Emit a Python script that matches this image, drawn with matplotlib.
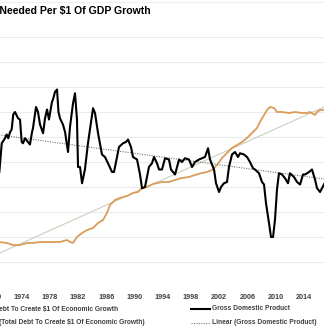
import matplotlib
matplotlib.use("Agg")
import matplotlib.pyplot as plt
import numpy as np
from matplotlib.lines import Line2D

# Gross Domestic Product (annual % change, smoothed)
gdp_years = [1970.83, 1971.17, 1971.63, 1971.87, 1972.10, 1972.35, 1972.58, 1972.80, 1973.05,
             1973.48, 1973.76, 1974.00, 1974.19, 1974.47, 1974.89, 1975.17, 1975.47, 1975.60,
             1976.03, 1976.31, 1976.60, 1977.03, 1977.31, 1977.59, 1977.87, 1978.29, 1978.44,
             1978.72, 1979.01, 1979.22, 1979.43, 1979.85, 1980.15, 1980.57, 1980.85, 1981.28,
             1981.56, 1981.84, 1981.99, 1982.27, 1982.56, 1982.97, 1983.40, 1984.12, 1984.40,
             1984.83, 1985.39, 1985.81, 1986.24, 1986.81, 1987.09, 1987.52, 1987.80, 1988.37,
             1988.80, 1989.08, 1989.50, 1989.79, 1990.36, 1990.78, 1991.07, 1991.49, 1991.77,
             1992.05, 1992.48, 1992.77, 1993.19, 1993.48, 1993.90, 1994.33, 1994.89, 1995.17,
             1995.75, 1996.32, 1996.73, 1997.16, 1997.73, 1998.16, 1998.58, 1999.15, 1999.57,
             2000.00, 2000.43, 2000.71, 2001.28, 2001.56, 2001.99, 2002.27, 2002.69, 2003.12,
             2003.40, 2003.83, 2004.25, 2004.68, 2004.96, 2005.53, 2005.96, 2006.38, 2006.81,
             2007.09, 2007.66, 2008.08, 2008.37, 2008.65, 2009.08, 2009.36, 2009.65, 2009.93,
             2010.21, 2010.49, 2010.92, 2011.35, 2011.77, 2012.05, 2012.62, 2013.05, 2013.48,
             2013.90, 2014.18, 2014.76, 2015.17, 2015.60, 2015.89, 2016.32, 2016.96]
gdp_values = [1.2, 3.5, 3.9, 4.2, 3.9, 4.4, 4.6, 5.8, 6.0,
              5.5, 5.4, 3.6, 3.5, 3.9, 3.6, 3.4, 4.4, 4.7,
              6.4, 6.0, 5.0, 4.3, 5.5, 6.2, 5.4, 6.8, 7.0,
              7.6, 7.8, 6.0, 5.5, 5.0, 4.4, 2.8, 4.8, 6.7,
              7.5, 5.4, 1.6, 1.6, 0.3, 1.4, 3.5, 6.3, 5.9,
              4.3, 2.6, 2.4, 1.9, 1.2, 1.2, 2.4, 3.2, 3.5,
              3.6, 3.8, 3.2, 2.4, 2.2, 1.0, -0.1, 0.0, 0.8,
              1.6, 1.9, 2.4, 1.9, 1.4, 1.4, 2.3, 2.2, 1.4,
              1.0, 2.2, 2.0, 2.3, 2.2, 1.6, 2.0, 2.2, 2.3,
              2.4, 3.1, 2.2, 1.4, 0.3, -0.4, 0.0, 0.3, 0.4,
              1.6, 2.6, 2.8, 2.4, 2.7, 2.6, 2.4, 2.0, 1.5,
              1.4, 1.1, 0.4, 0.2, -1.3, -2.9, -4.0, -4.0, -2.6,
              -0.2, 1.1, 1.0, 0.7, 0.3, 1.1, 0.8, 0.4, 0.2,
              1.0, 1.0, 1.2, 1.4, 0.6, -0.1, -0.4, 0.3]

# Total debt needed to create $1 of economic growth
debt_years = [1970.83, 1971.92, 1972.76, 1973.76, 1974.75, 1975.60, 1976.60, 1977.59, 1978.44,
              1979.43, 1980.43, 1980.85, 1981.28, 1981.84, 1982.56, 1983.27, 1984.12, 1984.83,
              1985.53, 1986.09, 1986.52, 1987.24, 1987.95, 1988.93, 1989.79, 1990.49, 1991.07,
              1991.77, 1992.63, 1993.90, 1994.89, 1995.75, 1996.73, 1997.73, 1998.58, 1999.57,
              2000.28, 2001.00, 2001.70, 2002.41, 2003.12, 2003.83, 2004.54, 2005.25, 2005.96,
              2006.67, 2007.37, 2007.80, 2008.37, 2008.80, 2009.22, 2009.79, 2010.21, 2010.92,
              2011.92, 2012.77, 2013.76, 2014.47, 2014.89, 2015.60, 2015.89, 2016.32, 2016.96]
debt_values = [1.40, 1.38, 1.34, 1.34, 1.38, 1.38, 1.40, 1.40, 1.40,
               1.40, 1.44, 1.40, 1.38, 1.50, 1.58, 1.64, 1.68, 1.78,
               1.84, 1.98, 2.14, 2.24, 2.28, 2.32, 2.38, 2.40, 2.48,
               2.50, 2.56, 2.60, 2.60, 2.64, 2.68, 2.70, 2.74, 2.78,
               2.80, 2.84, 2.94, 3.08, 3.18, 3.28, 3.34, 3.40, 3.48,
               3.58, 3.68, 3.80, 3.94, 4.04, 4.10, 4.08, 4.00, 4.00,
               3.98, 4.00, 3.98, 3.98, 4.00, 3.94, 4.00, 4.04, 4.04]

# Excel linear trendlines (fitted on the full series, which runs past the crop):
# values read where they leave the picture
trend_years = [1970.92, 2016.88]
debt_trend = [1.18, 4.10]
gdp_trend = [4.16, 0.64]

tick_years = list(range(1966, 2023, 4))

W, H = 324, 335
FONT = 'Liberation Sans'
TXT = '#404040'
ORANGE = '#DB9C58'
DEBT_TREND = '#C9CFC0'
GDP_TREND = '#6E7F62'
DOTS = (0, (1, 1.2))

fig = plt.figure(figsize=(W / 100, H / 100), dpi=100)
fig.patch.set_facecolor('white')

# plot area runs past both figure edges (the picture is a crop)
ax2 = fig.add_axes([-40 / W, 48 / H, 404 / W, 250 / H])
ax = ax2.twinx()
ax2.set_zorder(1)
ax.set_zorder(2)
ax2.patch.set_visible(True)
ax2.patch.set_facecolor('white')
ax.patch.set_visible(False)

xmin, xmax = 1965.25, 2022.55
ax2.set_xlim(xmin, xmax)
ax2.set_ylim(0.5, 5.5)
ax.set_ylim(-8, 12)

ax2.set_yticks(np.arange(1.0, 5.51, 0.5))
ax2.yaxis.grid(True, color='#EBEBEB', lw=0.8)
ax2.set_axisbelow(True)

# extend the straight trendlines to the plot edges
yr = np.array([xmin, xmax])
p_debt = np.polyfit(trend_years, debt_trend, 1)
p_gdp = np.polyfit(trend_years, gdp_trend, 1)

ax2.plot(yr, np.polyval(p_debt, yr), color=DEBT_TREND, lw=0.8)
ax2.plot(debt_years, debt_values, color=ORANGE, lw=1.3, solid_joinstyle='round')
ax.plot(yr, np.polyval(p_gdp, yr), color=GDP_TREND, lw=0.8, ls=DOTS)
ax.plot(gdp_years, gdp_values, color='black', lw=1.5, solid_joinstyle='round')

for a in (ax, ax2):
    for s in a.spines.values():
        s.set_visible(False)
    a.tick_params(axis='y', length=0, labelleft=False, labelright=False)
ax.set_yticks([])

ax2.set_xticks(tick_years, labels=[str(y) for y in tick_years],
               fontsize=5.2, fontweight='bold', family=FONT, color=TXT)
ax2.tick_params(axis='x', length=0, pad=5)

# title (left part falls outside the crop)
fig.text(151 / W, 1 - 11 / H, 'Total Debt Needed Per $1 Of GDP Growth', ha='right', va='center',
         fontsize=7.6, fontweight='bold', family=FONT, color='black')
fig.add_artist(Line2D([0, 1], [1 - 2 / H, 1 - 2 / H], transform=fig.transFigure,
                      color='#F0F0F0', lw=0.8))

# legend drawn by hand
def px(x, y):
    return x / W, 1 - y / H

legend_left = [('Total Debt To Create $1 Of Economic Growth', 118, 309),
               ('Linear (Total Debt To Create $1 Of Economic Growth)', 145, 323)]
legend_right = [('Gross Domestic Product', 309, dict(color='black', lw=1.5)),
                ('Linear (Gross Domestic Product)', 323, dict(color=GDP_TREND, lw=0.8, ls=DOTS))]

for label, xe, y in legend_left:
    fig.text(*px(xe, y), label, ha='right', va='center', fontsize=4.8,
             fontweight='bold', family=FONT, color=TXT)
for label, y, style in legend_right:
    (x0, yy), (x1, _) = px(191, y), px(210, y)
    fig.add_artist(Line2D([x0, x1], [yy, yy], transform=fig.transFigure, **style))
    fig.text(*px(212, y), label, ha='left', va='center', fontsize=4.8,
             fontweight='bold', family=FONT, color=TXT)

fig.savefig('out.png', dpi=100)
